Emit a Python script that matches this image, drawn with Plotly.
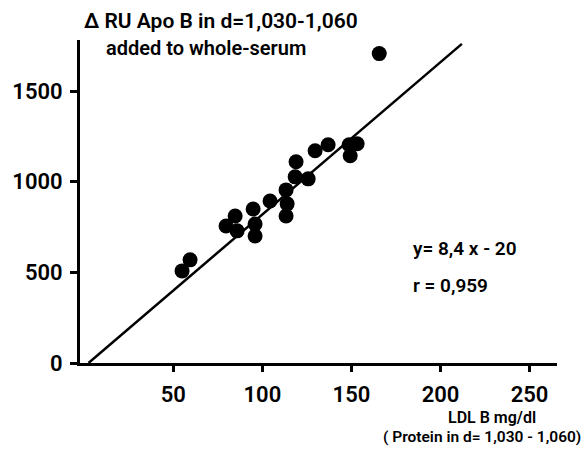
import plotly.graph_objects as go

# LDL B (mg/dl) vs. delta RU Apo B
ldl_b = [54.9, 59.4, 79.6, 84.7, 85.8, 94.8, 95.9, 95.9, 104.3, 113.3, 113.9,
         113.3, 118.9, 118.4, 125.7, 129.6, 136.9, 149.3, 153.2, 148.7, 165.6]
delta_ru = [508, 569, 756, 811, 729, 850, 767, 701, 894, 955, 878,
            811, 1110, 1027, 1016, 1171, 1204, 1143, 1210, 1204, 1707]

# regression y = 8.4 x - 20
SLOPE = 8.4
INTERCEPT = -20
fit_x = [-INTERCEPT / SLOPE, 212]
fit_y = [SLOPE * v + INTERCEPT for v in fit_x]

x_ticks = [50, 100, 150, 200, 250]
y_ticks = [0, 500, 1000, 1500]

FONT = "Roboto"
W, H = 585, 453
L, R, T, B = 80, 28, 40, 90
pw, ph = W - L - R, H - T - B


def px(xp):
    return (xp - L) / pw


def py(yp):
    return (H - B - yp) / ph


fig = go.Figure()
fig.add_trace(go.Scatter(x=fit_x, y=fit_y, mode="lines",
                         line=dict(color="black", width=2.5),
                         hoverinfo="skip", cliponaxis=False))
fig.add_trace(go.Scatter(x=ldl_b, y=delta_ru, mode="markers",
                         marker=dict(color="black", size=15, line=dict(width=0)),
                         cliponaxis=False))

txt = dict(family=FONT, size=21, color="black", weight=600)
annotations = [
    dict(text="Δ RU Apo B in d=1,030-1,060", x=px(82), y=py(21),
         xanchor="left", yanchor="middle", font=txt),
    dict(text="added to whole-serum", x=px(104), y=py(48),
         xanchor="left", yanchor="middle", font=dict(txt, size=20)),
    dict(text="y= 8,4 x - 20", x=px(411), y=py(248),
         xanchor="left", yanchor="middle", font=dict(txt, size=19)),
    dict(text="r = 0,959", x=px(411), y=py(285),
         xanchor="left", yanchor="middle", font=dict(txt, size=19)),
    dict(text="LDL B mg/dl", x=px(538), y=py(417),
         xanchor="right", yanchor="middle", font=dict(txt, size=16)),
    dict(text="( Protein in d= 1,030 - 1,060)", x=px(583), y=py(437),
         xanchor="right", yanchor="middle", font=dict(txt, size=15.5)),
]
for a in annotations:
    a.update(xref="paper", yref="paper", showarrow=False)

tick_font = dict(family=FONT, size=22, color="black", weight=600)
fig.update_layout(
    width=W, height=H,
    margin=dict(l=L, r=R, t=T, b=B),
    plot_bgcolor="white", paper_bgcolor="white",
    showlegend=False,
    annotations=annotations,
    xaxis=dict(range=[-2.4, 265.4], tickvals=x_ticks, ticks="outside",
               ticklen=6, tickwidth=2.5, tickcolor="black",
               showline=True, linewidth=3, linecolor="black",
               showgrid=False, zeroline=False, ticklabelstandoff=4,
               tickfont=tick_font),
    yaxis=dict(range=[0, 1782], tickvals=y_ticks, ticks="outside",
               ticklen=7, tickwidth=2.5, tickcolor="black",
               showline=True, linewidth=3, linecolor="black",
               showgrid=False, zeroline=False, ticklabelstandoff=3,
               tickfont=tick_font),
)

fig.write_html("out.html")
